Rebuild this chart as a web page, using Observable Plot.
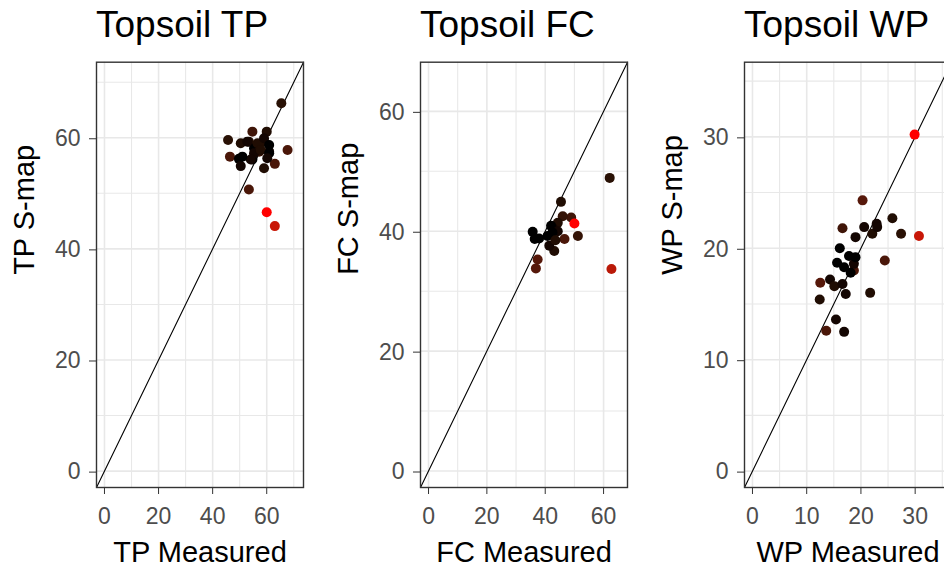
<!DOCTYPE html>
<html><head><meta charset="utf-8">
<script src="https://cdn.jsdelivr.net/npm/d3@7"></script>
<script src="https://cdn.jsdelivr.net/npm/@observablehq/plot@0.6"></script>
<style>
html,body{margin:0;padding:0;background:#fff;overflow:hidden;width:944px;height:568px;}
#row{display:flex;width:972px;}
.panel{width:324px;flex:none;}
.title{font-family:"Liberation Sans",Arial,sans-serif;font-size:37px;line-height:50px;height:50px;padding-left:96px;color:#000;white-space:nowrap;}
</style></head><body><div id="row"></div>
<script>
const panelTitles = ["Topsoil TP", "Topsoil FC", "Topsoil WP"];
const xLabels = ["TP Measured", "FC Measured", "WP Measured"];
const yLabels = ["TP S-map", "FC S-map", "WP S-map"];

const tpMeasured = [65.4,45.7,54.7,60.0,67.7,46.4,50.4,49.7,50.4,53.4,55.3,57.2,59.0,60.9,59.0,63.0,54.7,53.4,52.8,56.6,59.0,60.9,55.3,57.8,60.9,54.1,51.0,60.2,60.0,63.0];
const tpSmap     = [66.2,59.6,61.1,61.1,57.8,56.6,59.0,56.2,54.9,59.3,58.1,57.5,59.3,57.5,54.5,55.3,56.1,50.7,59.3,59.0,59.9,58.7,57.2,57.8,57.2,56.1,56.6,56.3,46.6,44.1];
const tpShade    = [0.15,0.15,0.25,0.1,0.3,0.3,0.1,0.0,0.05,0.1,0.0,0.2,0.1,0.05,0.1,0.3,0.0,0.3,0.05,0.1,0.05,0.0,0.05,0.1,0.0,0.05,0.0,0.05,1.0,0.8];

const fcMeasured = [62.1,45.4,48.9,46.0,44.3,42.5,42.0,35.7,37.9,40.8,46.6,51.2,43.1,41.4,44.3,42.5,37.4,36.8,36.4,43.5,62.7,50.0];
const fcSmap     = [48.9,44.9,42.3,42.5,41.4,40.6,40.9,39.9,38.8,39.2,38.7,39.2,36.7,37.6,40.0,39.8,35.3,33.8,38.7,38.5,33.7,41.3];
const fcShade    = [0.15,0.1,0.25,0.2,0.1,0.05,0.0,0.0,0.0,0.0,0.3,0.2,0.1,0.05,0.05,0.0,0.35,0.35,0.0,0.1,0.75,1.0];

const wpMeasured = [18.7,20.3,25.8,27.4,16.6,20.6,22.9,22.1,19.0,23.0,24.4,16.1,15.6,17.8,18.7,18.1,16.9,19.0,12.5,14.3,15.1,16.6,17.2,12.4,21.7,15.4,13.6,16.9,29.9,30.7];
const wpSmap     = [18.0,24.3,22.7,21.3,21.8,21.9,22.2,21.3,21.0,21.9,18.9,20.0,18.7,19.3,18.6,17.8,18.3,19.2,16.9,17.2,16.6,16.8,15.9,15.4,16.0,13.6,12.6,12.5,30.2,21.1];
const wpShade    = [0.3,0.35,0.1,0.15,0.25,0.05,0.05,0.1,0.05,0.05,0.3,0.0,0.0,0.0,0.05,0.0,0.0,0.0,0.35,0.05,0.1,0.05,0.05,0.1,0.1,0.05,0.3,0.05,1.0,0.8];

const tpTicks = [0,20,40,60], tpMinor = [10,30,50,70], tpLimits = [-2.95,73.6];
const fcTicks = [0,20,40,60], fcMinor = [10,30,50],    fcLimits = [-2.75,68.2];
const wpTicks = [0,10,20,30], wpMinor = [5,15,25,35],  wpLimits = [-1.47,36.7];

const font = "'Liberation Sans', Arial, sans-serif";

function makePanel(i, xs, ys, cs, ticks, minor, limits) {
  const data = xs.map((x, k) => ({x, y: ys[k], c: cs[k]}));
  const grid = {stroke: "#E8E8E8", strokeOpacity: 1};
  return Plot.plot({
    width: 324, height: 518,
    marginLeft: 96, marginRight: 21, marginTop: 11.7, marginBottom: 81,
    x: {domain: limits}, y: {domain: limits},
    color: {type: "linear", domain: [0, 1], range: ["black", "red"], interpolate: "lab"},
    style: {fontFamily: font, background: "white", overflow: "visible"},
    marks: [
      Plot.ruleX(minor, {...grid, strokeWidth: 1.1}),
      Plot.ruleY(minor, {...grid, strokeWidth: 1.1}),
      Plot.ruleX(ticks, {...grid, strokeWidth: 1.6}),
      Plot.ruleY(ticks, {...grid, strokeWidth: 1.6}),
      Plot.line(limits, {x: d => d, y: d => d, stroke: "black", strokeWidth: 1.1}),
      Plot.dot(data, {x: "x", y: "y", fill: "c", r: 5}),
      Plot.axisX(ticks, {tickSize: 7, tickPadding: 13.5, fontSize: 23, stroke: "#333333", fill: "#4D4D4D", label: null}),
      Plot.axisY(ticks, {tickSize: 7, tickPadding: 9, fontSize: 23, stroke: "#333333", fill: "#4D4D4D", label: null, dy: 1}),
      Plot.frame({stroke: "#333333", strokeWidth: 1.4}),
      Plot.text([xLabels[i]], {frameAnchor: "bottom", text: d => d, lineAnchor: "top", dy: 54, fontSize: 29, fill: "black"}),
      Plot.text([yLabels[i]], {frameAnchor: "left", text: d => d, rotate: -90, lineAnchor: "middle", dx: -71.5, fontSize: 29, fill: "black"})
    ]
  });
}

const row = document.getElementById("row");
const specs = [
  [tpMeasured, tpSmap, tpShade, tpTicks, tpMinor, tpLimits],
  [fcMeasured, fcSmap, fcShade, fcTicks, fcMinor, fcLimits],
  [wpMeasured, wpSmap, wpShade, wpTicks, wpMinor, wpLimits]
];
specs.forEach((s, i) => {
  const div = document.createElement("div");
  div.className = "panel";
  const t = document.createElement("div");
  t.className = "title";
  t.textContent = panelTitles[i];
  div.appendChild(t);
  div.appendChild(makePanel(i, ...s));
  row.appendChild(div);
});
</script>
</body></html>
